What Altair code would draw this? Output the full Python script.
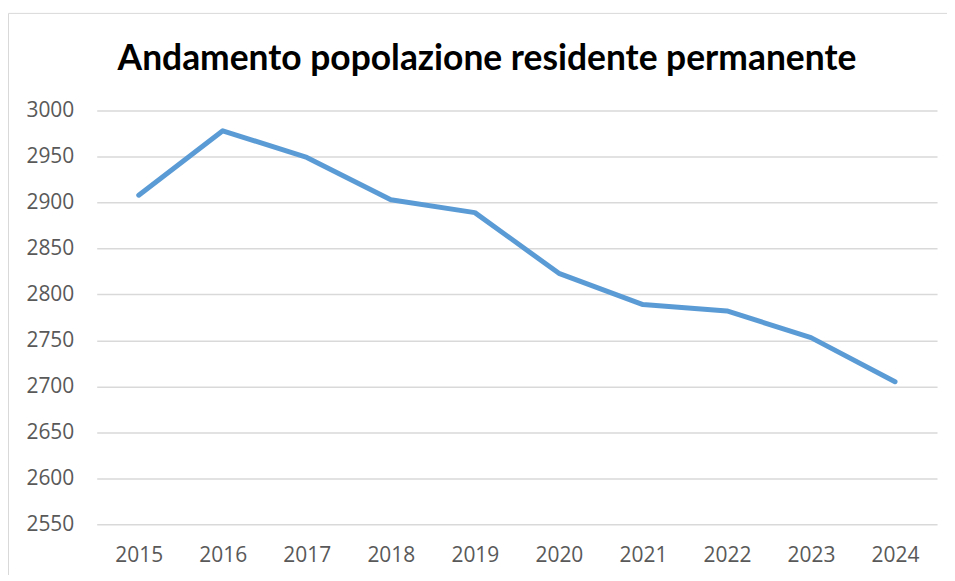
import altair as alt
import pandas as pd

years = ["2015", "2016", "2017", "2018", "2019", "2020", "2021", "2022", "2023", "2024"]
population = [2908, 2978, 2949, 2903, 2889, 2823, 2789, 2782, 2753, 2705]
y_ticks = [2550, 2600, 2650, 2700, 2750, 2800, 2850, 2900, 2950, 3000]

df = pd.DataFrame({"anno": years, "popolazione": population})

W, H = 843, 415

border = alt.Chart(pd.DataFrame({"a": [0]})).mark_rect(
    fill=None, stroke="#D9D9D9", strokeWidth=1, clip=False
).encode(
    x=alt.value(-88.5), x2=alt.value(900), y=alt.value(-97.5), y2=alt.value(600)
)

line = alt.Chart(df).mark_line(
    color="#5B9BD5", strokeWidth=5, strokeCap="round", strokeJoin="round"
).encode(
    x=alt.X("anno:O", sort=years,
            scale=alt.Scale(type="point", padding=0.5),
            axis=alt.Axis(title=None, labelAngle=0, ticks=False, domain=False,
                          grid=False, labelPadding=20)),
    y=alt.Y("popolazione:Q",
            scale=alt.Scale(domain=[2550, 3000], nice=False, zero=False),
            axis=alt.Axis(title=None, values=y_ticks, format="d", ticks=False,
                          domain=False, grid=True, gridColor="#D9D9D9",
                          gridWidth=1.5, labelPadding=23)),
)

chart = alt.layer(border, line).properties(
    width=W, height=H,
    autosize=alt.AutoSizeParams(type="none"),
    padding={"left": 89, "top": 102, "right": 10, "bottom": 50},
    title=alt.TitleParams(
        "Andamento popolazione residente permanente",
        anchor="middle", dx=-30, offset=-65, fontSize=35.5, font="Lato",
        fontWeight="bold", color="#000000"
    ),
).configure_view(stroke=None).configure_axis(
    labelFont="Open Sans", labelFontSize=21, labelColor="#595959"
)

chart.save("out.html", embed_options={"renderer": "svg", "actions": False})
